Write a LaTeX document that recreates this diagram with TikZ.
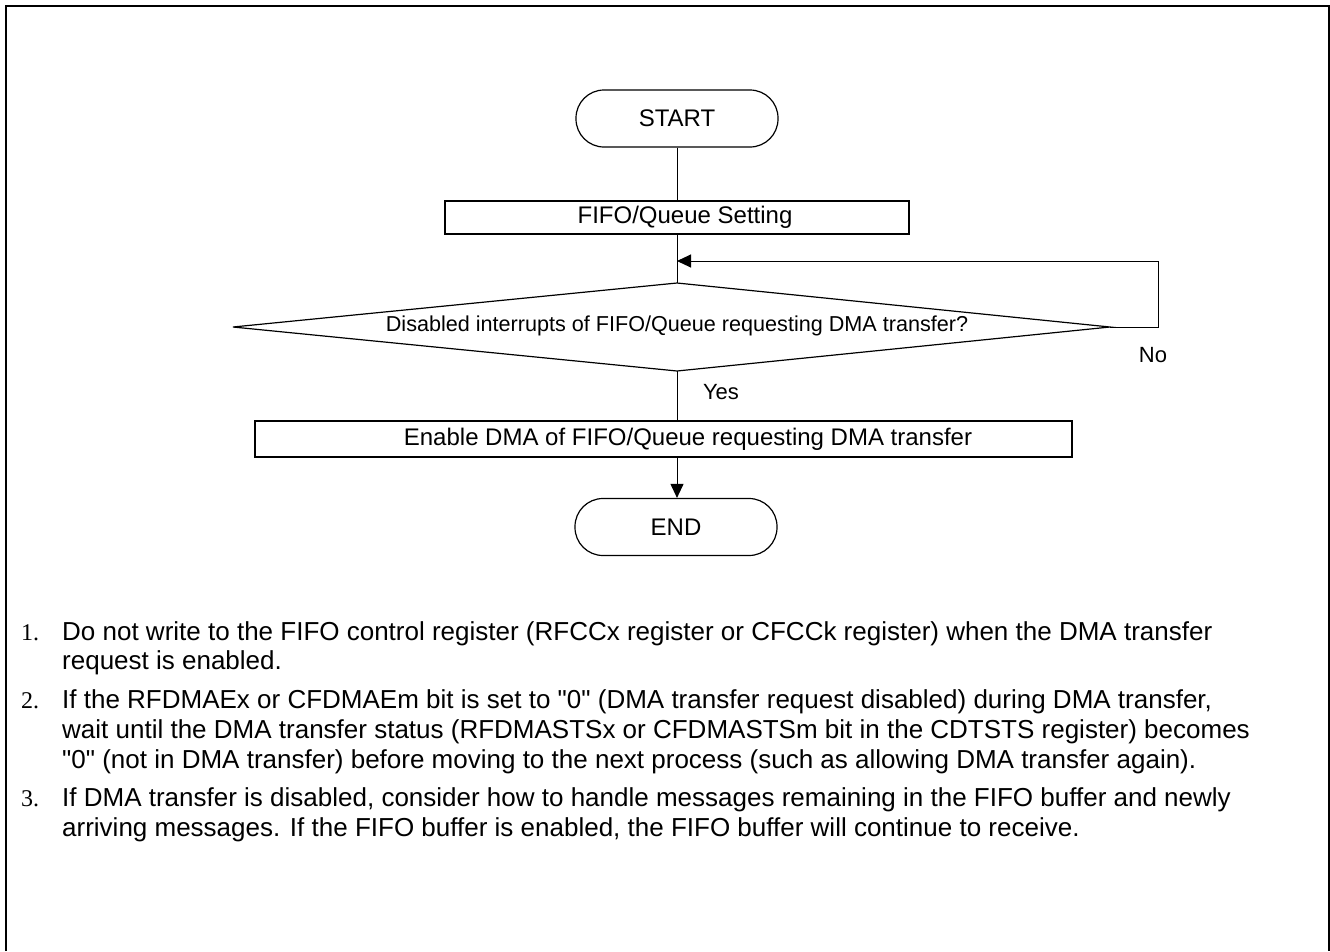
\documentclass[tikz,border=0pt]{standalone}
\usepackage{fontspec}
\setmainfont{Liberation Sans}[Ligatures=TeXOff]
\newfontfamily\serifnum{Liberation Serif}
\usetikzlibrary{arrows.meta}
\begin{document}
\begin{tikzpicture}[x=1pt,y=-1pt,
  term/.style={draw, line width=1.2pt, rounded corners=28pt, minimum width=202pt, minimum height=57pt, inner sep=0pt, font=\fontsize{24}{28}\selectfont},
  procbox/.style={draw, line width=1.3pt, inner sep=0pt},
  boxtext/.style={inner sep=0pt, font=\fontsize{24}{28}\selectfont},
  conn/.style={line width=1pt},
  arr/.style={conn, -{Triangle[length=14pt,width=13pt]}},
  lbl/.style={font=\fontsize{22}{26}\selectfont, inner sep=0pt},
  note/.style={anchor=base west, inner sep=0pt, font=\fontsize{26}{30}\selectfont},
  num/.style={anchor=base west, inner sep=0pt, font=\serifnum\fontsize{24}{29}\selectfont},
]
\useasboundingbox (0,0) rectangle (1330,951);
\draw[line width=2pt] (6,951) -- (6,6) -- (1329,6) -- (1329,951);

% flowchart
\node[term] (start) at (677,118.5) {START};
\node[procbox, minimum width=464pt, minimum height=33pt] (fifo) at (677,217.5) {};
\node[boxtext] (fifotext) at (685,217.5) {FIFO/Queue Setting};

\coordinate (dtop) at (677,283);
\coordinate (dbot) at (677,371);
\coordinate (dleft) at (233,327);
\coordinate (dright) at (1110,327);
\draw[line width=1.2pt] (dtop) -- (dright) -- (dbot) -- (dleft) -- cycle;
\node[font=\fontsize{21.6}{25}\selectfont, inner sep=0pt, anchor=base] (dtext) at (677,331) {Disabled interrupts of FIFO/Queue requesting DMA transfer?};

\coordinate (loopr) at (1158,327);
\coordinate (loopt) at (1158,261);
\coordinate (loopin) at (677,261);

\node[procbox, minimum width=817pt, minimum height=36pt] (enable) at (663.5,439) {};
\node[boxtext] (enabletext) at (688,439) {Enable DMA of FIFO/Queue requesting DMA transfer};
\node[term] (end) at (676,527) {END};

\node[lbl] (no) at (1153,355) {No};
\node[lbl] (yes) at (721,392) {Yes};

\draw[conn] (start.south) -- (fifo.north);
\draw[conn] (fifo.south) -- (dtop);
\draw[arr] (dright) -- (loopr) -- (loopt) -- (loopin);
\draw[conn] (dbot) -- (dbot |- enable.north);
\draw[arr] (dbot |- enable.south) -- (dbot |- end.north);

% notes
\node[num] (n1) at (21,640) {1.};
\node[note] (t1a) at (62,640) {Do not write to the FIFO control register (RFCCx register or CFCCk register) when the DMA transfer};
\node[note] (t1b) at (62,669) {request is enabled.};
\node[num] (n2) at (21,708) {2.};
\node[note] (t2a) at (62,708) {If the RFDMAEx or CFDMAEm bit is set to "0" (DMA transfer request disabled) during DMA transfer,};
\node[note] (t2b) at (62,738) {wait until the DMA transfer status (RFDMASTSx or CFDMASTSm bit in the CDTSTS register) becomes};
\node[note] (t2c) at (62,768) {"0" (not in DMA transfer) before moving to the next process (such as allowing DMA transfer again).};
\node[num] (n3) at (21,806) {3.};
\node[note] (t3a) at (62,806) {If DMA transfer is disabled, consider how to handle messages remaining in the FIFO buffer and newly};
\node[note] (t3b) at (62,836) {arriving messages. If the FIFO buffer is enabled, the FIFO buffer will continue to receive.};
\end{tikzpicture}
\end{document}
